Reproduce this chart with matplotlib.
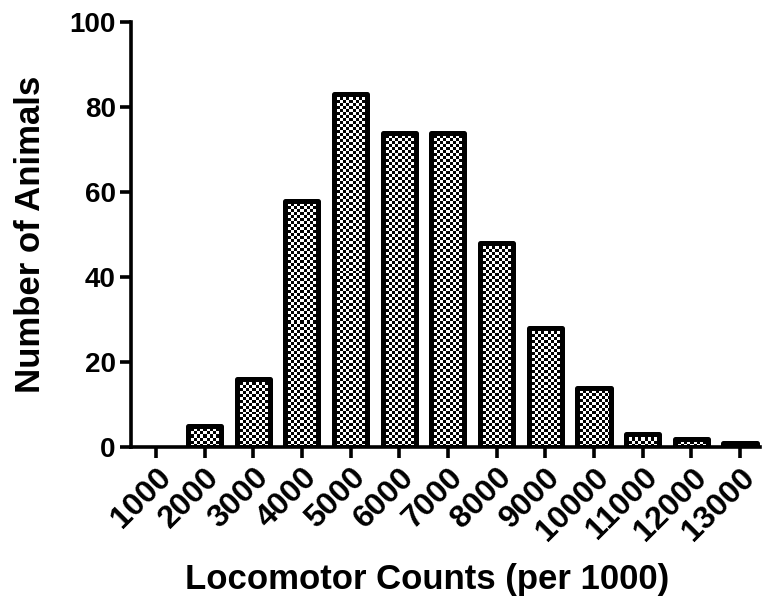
import numpy as np
import matplotlib.pyplot as plt

# histogram of locomotor activity
bins = ['1000', '2000', '3000', '4000', '5000', '6000', '7000',
        '8000', '9000', '10000', '11000', '12000', '13000']
animals = [0, 5, 16, 58, 83, 74, 74, 48, 28, 14, 3, 2, 1]

plt.rcParams['font.family'] = ['Liberation Sans', 'DejaVu Sans']
plt.rcParams['font.weight'] = 'bold'

fig = plt.figure(figsize=(7.62, 6.06), dpi=100)
ax = fig.add_axes([131/762, (606-447)/606, (760-131)/762, (447-22)/606])

x = np.arange(len(bins))
width = 0.68
bars = ax.bar(x, animals, width=width, facecolor='none', edgecolor='black',
              linewidth=3.6, zorder=3)

# checkerboard fill, clipped to each bar
px_per_y = 425 / 100.0
px_per_x = (760 - 131) / 12.92
cell = 3.0
for rect, h in zip(bars, animals):
    if h <= 0:
        rect.set_linewidth(0)
        continue
    rect.set_joinstyle('round')
    x0 = rect.get_x()
    nc = max(1, int(round(width * px_per_x / cell)))
    nr = max(1, int(round(h * px_per_y / cell)))
    tex = (np.add.outer(np.arange(nr), np.arange(nc)) % 2).astype(float)
    im = ax.imshow(tex, cmap='gray', interpolation='nearest', aspect='auto',
                   extent=(x0, x0 + width, 0, h), origin='lower', zorder=2)
    im.set_clip_path(rect)

ax.set_xlim(-0.51, 12.41)
ax.set_ylim(0, 100)
ax.set_yticks([0, 20, 40, 60, 80, 100])
ax.set_xticks(x)
ax.set_xticklabels(bins, rotation=45, ha='right', va='top',
                   rotation_mode='anchor')

for s in ['top', 'right']:
    ax.spines[s].set_visible(False)
for s in ['left', 'bottom']:
    ax.spines[s].set_linewidth(2.6)
    ax.spines[s].set_zorder(4)
ax.tick_params(axis='both', direction='out', length=8, width=2.6)
ax.tick_params(axis='y', labelsize=20, pad=3)
ax.tick_params(axis='x', labelsize=23, pad=3)

ax.set_xlabel('Locomotor Counts (per 1000)', fontsize=25, fontweight='bold',
              labelpad=12)
ax.xaxis.label.set_x(0.47)
ax.set_ylabel('Number of Animals', fontsize=25, fontweight='bold', labelpad=16)

fig.savefig('out.png', dpi=100)
